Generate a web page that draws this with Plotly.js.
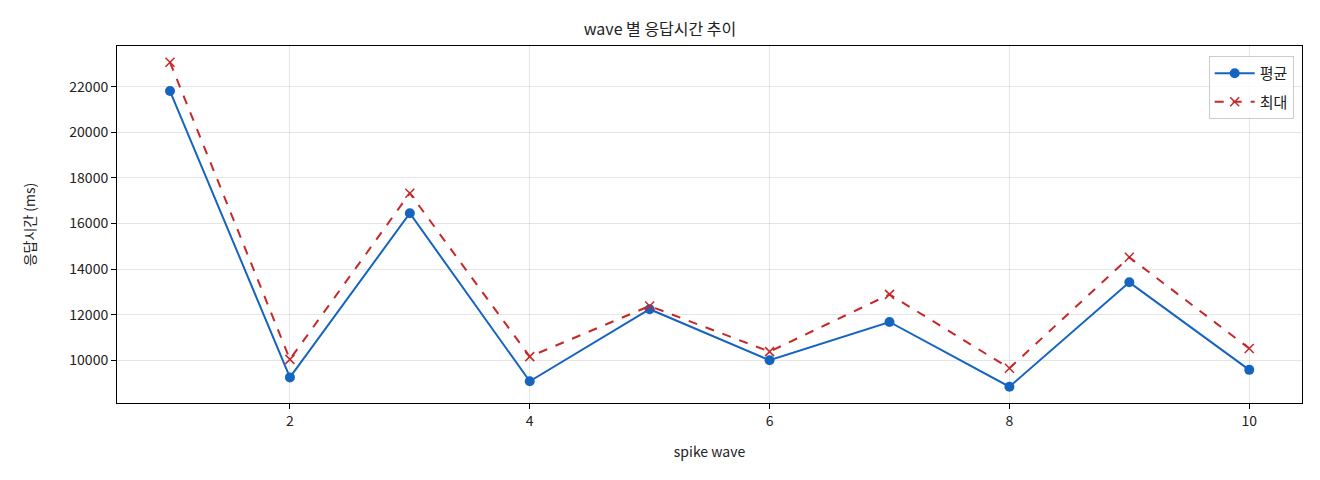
<!DOCTYPE html>
<html>
<head>
<meta charset="utf-8">
<script src="https://cdn.plot.ly/plotly-3.0.1.min.js"></script>
<style>
  html, body { margin: 0; padding: 0; background: #fff; }
  #plot { width: 1320px; height: 480px; }
</style>
</head>
<body>
<div id="plot"></div>
<script>
const waves = [1, 2, 3, 4, 5, 6, 7, 8, 9, 10];
const avgMs = [21810, 9250, 16450, 9080, 12240, 10000, 11680, 8840, 13420, 9580];
const maxMs = [23070, 10040, 17330, 10160, 12380, 10380, 12890, 9650, 14520, 10520];

const font = '"Noto Sans CJK KR", "Noto Sans", sans-serif';

const axisBase = {
    showgrid: true,
    gridcolor: 'rgba(0,0,0,0.1)',
    gridwidth: 1,
    zeroline: false,
    showline: true,
    mirror: true,
    linecolor: '#000',
    linewidth: 1,
    ticks: 'outside',
    ticklen: 5,
    tickcolor: '#000',
    tickfont: { family: font, size: 14, color: '#222' }
};

const traces = [
    {
        x: waves, y: avgMs, name: '평균', legendgroup: 'avg',
        type: 'scatter', mode: 'lines+markers',
        line: { color: '#1565c0', width: 2 },
        marker: { color: '#1565c0', size: 10, symbol: 'circle' }
    },
    {
        x: waves, y: maxMs, name: '최대', legendgroup: 'max',
        type: 'scatter', mode: 'lines+markers',
        line: { color: '#c62828', width: 2, dash: 'dash' },
        marker: { color: '#c62828', size: 9, symbol: 'x-thin', line: { color: '#c62828', width: 1.5 } }
    }
];

const layout = {
    width: 1320, height: 480,
    paper_bgcolor: '#fff', plot_bgcolor: '#fff',
    font: { family: font, color: '#222' },
    margin: { l: 117, r: 18, t: 46, b: 77 },
    title: { text: 'wave 별 응답시간 추이', x: 0.5, xanchor: 'center', y: 0.938, yanchor: 'middle',
             font: { family: font, size: 16, color: '#222' } },
    xaxis: { ...axisBase, range: [0.558, 10.44], tickvals: [2, 4, 6, 8, 10],
             title: { text: 'spike wave', font: { family: font, size: 14 }, standoff: 18 } },
    yaxis: { ...axisBase, range: [8127, 23785], tickvals: [10000, 12000, 14000, 16000, 18000, 20000, 22000],
             tickformat: 'd',
             title: { text: '응답시간 (ms)', font: { family: font, size: 14 }, standoff: 30 } },
    showlegend: true,
    legend: {
        x: 0.993, y: 0.972, xanchor: 'right', yanchor: 'top',
        traceorder: 'grouped', tracegroupgap: 6, itemwidth: 40,
        bgcolor: 'rgba(255,255,255,0.8)', bordercolor: '#ccc', borderwidth: 1,
        font: { family: font, size: 15, color: '#222' }
    }
};

Plotly.newPlot('plot', traces, layout, { displayModeBar: false, staticPlot: true });
</script>
</body>
</html>
